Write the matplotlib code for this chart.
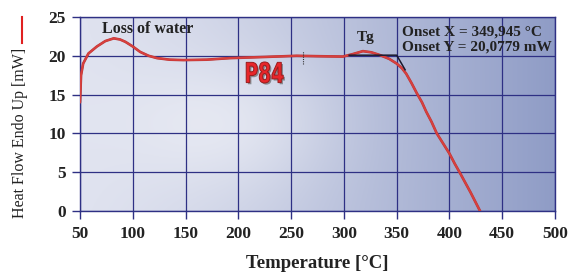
import numpy as np
import matplotlib
matplotlib.use("Agg")
import matplotlib.pyplot as plt
import matplotlib.patheffects as pe
from matplotlib.colors import to_rgb
from matplotlib.textpath import TextPath
from matplotlib.patches import PathPatch
from matplotlib.font_manager import FontProperties
from matplotlib.transforms import Affine2D, ScaledTranslation

# DSC curve
temperature = [50, 51, 53, 58, 66, 74, 82, 88, 93, 100, 107, 115, 123, 135, 148,
               170, 192, 225, 255, 275, 299, 308, 318, 326, 334, 343, 350, 355,
               359, 364, 369, 374, 378, 383, 388, 394, 400, 405, 410, 420, 429]
heat_flow = [14.0, 17.5, 19.0, 20.3, 21.2, 21.9, 22.25, 22.1, 21.8, 21.2, 20.5,
             20.0, 19.7, 19.5, 19.45, 19.5, 19.7, 19.85, 20.0, 19.95, 19.9, 20.2,
             20.6, 20.45, 20.1, 19.6, 19.0, 18.4, 17.7, 16.5, 15.2, 14.0, 12.8,
             11.5, 10.0, 8.7, 7.4, 6.1, 4.9, 2.4, 0.0]

# onset construction (tangent lines)
onset_x = [305, 350, 358]
onset_y = [20.08, 20.08, 18.2]

x_ticks = [50, 100, 150, 200, 250, 300, 350, 400, 450, 500]
y_ticks = [0, 5, 10, 15, 20, 25]

navy = "#2e3084"
curve_red = "#d8403e"
serif = ["Liberation Serif", "DejaVu Serif"]

fig = plt.figure(figsize=(5.72, 2.76), dpi=100)
fig.patch.set_facecolor("white")
ax = fig.add_axes([80 / 572, 1 - 211 / 276, 475 / 572, 194 / 276])

# bluish gradient background with a soft highlight
gx, gy = np.meshgrid(np.linspace(0, 1, 300), np.linspace(0, 1, 150))
left_c = np.array(to_rgb("#dfe2ef"))
right_c = np.array(to_rgb("#8f9cc6"))
t = gx ** 1.3
img = left_c * (1 - t[..., None]) + right_c * t[..., None]
glow = np.exp(-(((gx - 0.3) / 0.22) ** 2 + ((gy - 0.45) / 0.35) ** 2))
img = img + (1 - img) * 0.45 * glow[..., None]
ax.imshow(img, extent=[50, 500, 0, 25], aspect="auto", origin="lower", zorder=0)

ax.set_xlim(50, 500)
ax.set_ylim(0, 25)
ax.set_xticks(x_ticks)
ax.set_yticks(y_ticks)
ax.grid(True, color=navy, linewidth=0.9, zorder=1)
ax.set_axisbelow(False)
for s in ax.spines.values():
    s.set_color(navy)
    s.set_linewidth(1.0)
ax.tick_params(axis="both", direction="out", length=6, width=1.0, color=navy,
               labelsize=12.5, pad=4)
ax.tick_params(axis="x", pad=5)
for lab in ax.get_xticklabels() + ax.get_yticklabels():
    lab.set_fontfamily(serif)
    lab.set_fontweight("bold")
    lab.set_color("#222222")

ax.plot(temperature, heat_flow, color="#b83434", linewidth=1.9, zorder=3,
        solid_capstyle="round")
ax.plot(temperature, heat_flow, color=curve_red, linewidth=1.3, zorder=3,
        solid_capstyle="round")
ax.plot(onset_x, onset_y, color="#1a1a2e", linewidth=1.1, zorder=4)
ax.plot([261, 261], [18.9, 20.6], color="#333333", linewidth=0.8,
        linestyle=(0, (1, 1)), zorder=4)

ax.text(71, 23.45, "Loss of water", fontfamily=serif, fontweight="bold",
        fontsize=11.5, color="#222222", va="center", ha="left", zorder=5)
ax.text(321, 22.3, "Tg", fontfamily=serif, fontweight="bold",
        fontsize=11, color="#222222", va="center", ha="center", zorder=5)
ax.text(355, 23.07, "Onset X = 349,945 °C", fontfamily=serif, fontweight="bold",
        fontsize=11, color="#222222", va="center", ha="left", zorder=5)
ax.text(355, 21.1, "Onset Y = 20,0779 mW", fontfamily=serif, fontweight="bold",
        fontsize=11, color="#222222", va="center", ha="left", zorder=5)

# condensed heavy "P84" logo
tp = TextPath((0, 0), "P84", size=1, prop=FontProperties(family="DejaVu Sans", weight="bold"))
bb = tp.get_extents()
logo_tr = (Affine2D().translate(-(bb.x0 + bb.width / 2), -(bb.y0 + bb.height / 2))
           .scale(37 / bb.width, 21 / bb.height)
           + ScaledTranslation(225, 17.85, ax.transData))
ax.add_patch(PathPatch(tp, transform=logo_tr, facecolor="#e8262a",
                       edgecolor="#9a1c1c", linewidth=0.7, zorder=5,
                       path_effects=[pe.SimplePatchShadow(offset=(1.2, -1.2),
                                                          shadow_rgbFace="#555555", alpha=0.6),
                                     pe.Normal()]))

ax.set_xlabel("Temperature [°C]", fontfamily=serif, fontweight="bold",
              fontsize=13.5, color="#222222", labelpad=9)

fig.text(20 / 572, 1 - 133 / 276, "Heat Flow Endo Up [mW]", rotation=90,
         fontfamily=serif, fontsize=11.5, color="#222222", ha="center", va="center")
fig.add_artist(plt.Line2D([22 / 572, 22 / 572], [1 - 17 / 276, 1 - 43 / 276],
                          color="#e02020", linewidth=1.5, transform=fig.transFigure))

fig.savefig("out.png", dpi=100)
